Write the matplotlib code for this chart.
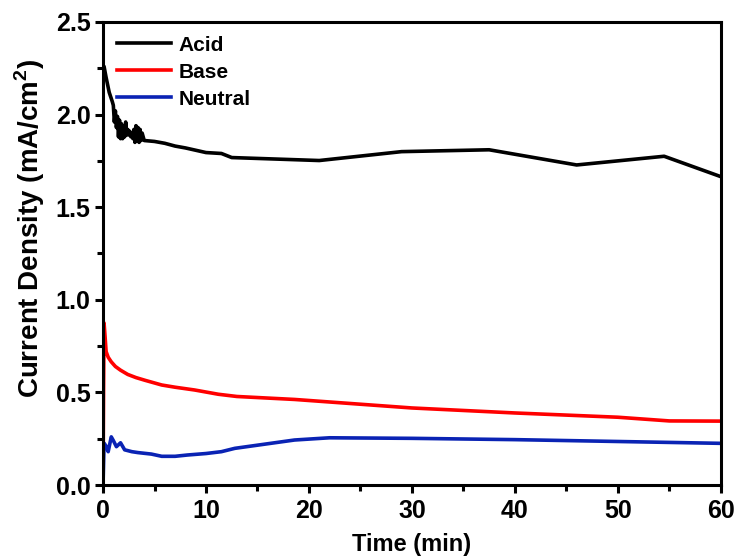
import matplotlib.pyplot as plt
from matplotlib.ticker import MultipleLocator

# data
t_acid = [0, 0.1, 0.3, 0.6, 0.9, 1.0, 1.1, 1.2, 1.3, 1.4, 1.5, 1.6, 1.7, 1.8, 1.9, 2.0,
          2.1, 2.2, 2.3, 2.4, 2.5, 2.6, 2.7, 2.8, 2.9, 3.0, 3.1, 3.2, 3.3, 3.4, 3.5,
          3.6, 3.7, 3.8, 4.0, 5.0, 6.0, 7.0, 8.0, 10.0, 11.5, 12.5, 21.0, 29.0, 37.5,
          46.0, 54.5, 60]
j_acid = [2.25, 2.26, 2.2, 2.12, 2.07, 2.05, 1.96, 2.02, 1.93, 1.99, 1.88, 1.97, 1.87,
          1.95, 1.87, 1.94, 1.88, 1.96, 1.89, 1.92, 1.89, 1.91, 1.88, 1.90, 1.87, 1.92,
          1.85, 1.94, 1.86, 1.93, 1.85, 1.92, 1.86, 1.90, 1.86, 1.855, 1.845, 1.83,
          1.82, 1.795, 1.79, 1.768, 1.752, 1.80, 1.81, 1.728, 1.775, 1.665]

t_base = [0, 0.05, 0.1, 0.2, 0.3, 0.5, 0.8, 1.2, 1.7, 2.4, 3.2, 4.1, 5.7, 7.0, 8.9,
          11.2, 13, 18.6, 30, 40, 50, 55, 60]
j_base = [0.0, 0.5, 0.875, 0.8, 0.72, 0.69, 0.665, 0.64, 0.62, 0.597, 0.58, 0.565,
          0.54, 0.528, 0.513, 0.49, 0.478, 0.462, 0.416, 0.389, 0.366, 0.346, 0.345]

t_neut = [0, 0.1, 0.3, 0.5, 0.8, 1.0, 1.3, 1.7, 2.1, 2.8, 3.4, 4.7, 5.7, 7, 8.2, 10,
          11.5, 12.8, 18.6, 22, 30, 40, 50, 60]
j_neut = [0.0, 0.226, 0.21, 0.18, 0.26, 0.24, 0.207, 0.228, 0.19, 0.18, 0.175, 0.167,
          0.155, 0.155, 0.162, 0.17, 0.18, 0.198, 0.243, 0.255, 0.252, 0.245, 0.235,
          0.225]

plt.rcParams['font.family'] = ['Liberation Sans', 'DejaVu Sans']
plt.rcParams['font.weight'] = 'bold'
plt.rcParams['mathtext.fontset'] = 'custom'
plt.rcParams['mathtext.bf'] = 'Liberation Sans:bold'

fig = plt.figure(figsize=(7.37, 5.58), dpi=100)
ax = fig.add_axes([0.1398, 0.1308, 0.8382, 0.8298])

ax.plot(t_acid, j_acid, color='black', lw=2.6, label='Acid')
ax.plot(t_base, j_base, color='#ff0000', lw=2.6, label='Base')
ax.plot(t_neut, j_neut, color='#0a23b4', lw=2.6, label='Neutral')

ax.set_xlim(0, 60)
ax.set_ylim(0, 2.5)
ax.xaxis.set_major_locator(MultipleLocator(10))
ax.xaxis.set_minor_locator(MultipleLocator(5))
ax.yaxis.set_major_locator(MultipleLocator(0.5))
ax.yaxis.set_minor_locator(MultipleLocator(0.25))
ax.yaxis.set_major_formatter(plt.FormatStrFormatter('%.1f'))

for s in ax.spines.values():
    s.set_linewidth(2.2)
ax.tick_params(which='major', direction='out', length=6, width=2.2)
ax.tick_params(which='minor', direction='out', length=4, width=2.2)
ax.tick_params(axis='y', labelsize=18, pad=3)
ax.tick_params(axis='x', labelsize=18, pad=4)

ax.set_xlabel('Time (min)', fontsize=17, fontweight='bold', labelpad=7)
ax.set_ylabel('Current Density (mA/cm$^\\mathbf{2}$)', fontsize=20, fontweight='bold')
ax.yaxis.set_label_coords(-0.09, 0.555)

ax.legend(loc='upper left', frameon=False, handlelength=2.6,
          handletextpad=0.35, labelspacing=0.38, borderaxespad=0.26,
          prop={'weight': 'bold', 'size': 15})

fig.savefig('out.png', dpi=100)
